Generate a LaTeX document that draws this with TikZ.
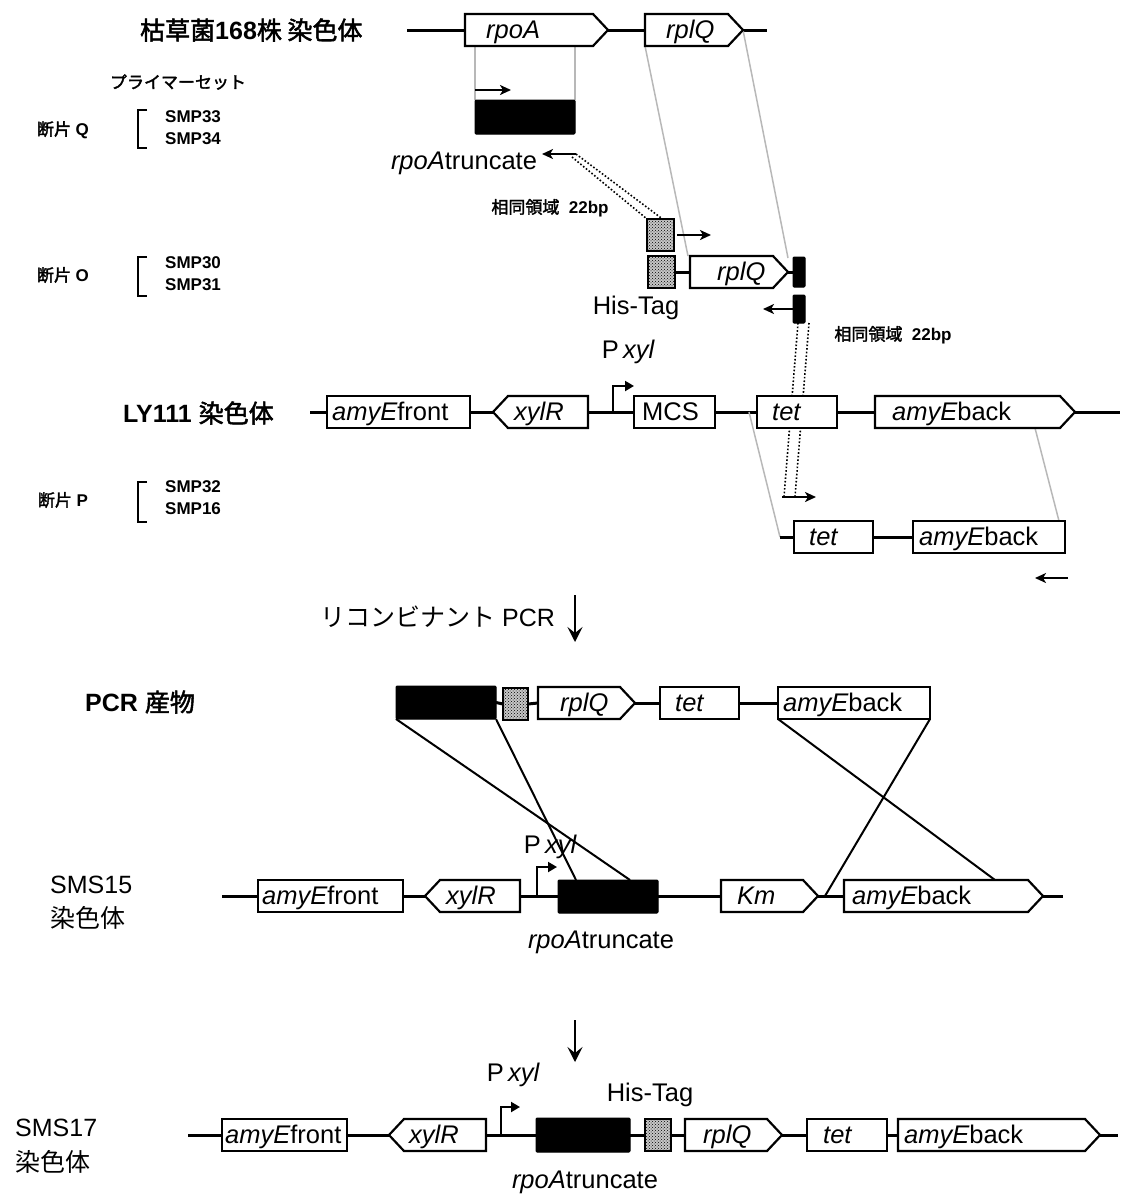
\documentclass[tikz,border=0pt]{standalone}
\usepackage{fontspec}
\setmainfont{Liberation Sans}
\newfontfamily\cjk[AutoFakeBold=2]{Noto Sans CJK JP}
\usetikzlibrary{arrows.meta,patterns}
\pgfdeclarelayer{bg}
\pgfsetlayers{bg,main}
\tikzset{
 chrom/.style={line width=3pt},
 gshape/.style={inner sep=0pt, outer sep=0pt, minimum height=32pt},
 gout/.style={line width=2.2pt, fill=white, line join=miter},
 gtxt/.style={font=\fontsize{25.5}{27}\selectfont, inner sep=0pt, anchor=base west},
 mid/.style={font=\fontsize{25.5}{27}\selectfont, inner sep=0pt},
 big/.style={font=\fontsize{25}{28}\selectfont, inner sep=0pt},
 small/.style={font=\fontsize{17}{19}\selectfont\bfseries, inner sep=0pt},
 glink/.style={draw=black!28, line width=1.5pt},
 cross/.style={line width=2pt},
 primer/.style={line width=2pt, -{Stealth[length=11pt,width=10pt,inset=3pt]}},
 bigarrow/.style={line width=2.8pt, -{Stealth[length=15pt,width=15pt,inset=6pt]}},
 prom/.style={line width=2pt, -{Triangle[length=9pt,width=10pt]}},
 dotl/.style={line width=1.6pt, dotted},
 blk/.style={fill=black, draw=black, line width=1pt, inner sep=0pt, outer sep=0pt, rounded corners=1pt},
 hatch/.style={draw=black, line width=2pt, inner sep=0pt, outer sep=0pt, preaction={fill=black!22}, pattern=crosshatch dots, pattern color=black},
 brk/.style={line width=1.5pt},
}
\newcommand\gB[6]{%
 \node[gshape, minimum width={#3-#2}] (#1) at ({(#2+#3)/2},#4) {};
 \draw[gout] (#1.north west) rectangle (#1.south east);
 \node[gtxt] (#1-t) at (#6,{#4+8.5}) {#5};}
\newcommand\gR[6]{%
 \node[gshape, minimum width={#3-#2}] (#1) at ({(#2+#3)/2},#4) {};
 \draw[gout] (#1.north west) -- ([xshift=-15pt]#1.north east) -- (#1.east) -- ([xshift=-15pt]#1.south east) -- (#1.south west) -- cycle;
 \node[gtxt] (#1-t) at (#6,{#4+8.5}) {#5};}
\newcommand\gL[6]{%
 \node[gshape, minimum width={#3-#2}] (#1) at ({(#2+#3)/2},#4) {};
 \draw[gout] (#1.west) -- ([xshift=15pt]#1.north west) -- (#1.north east) -- (#1.south east) -- ([xshift=15pt]#1.south west) -- cycle;
 \node[gtxt] (#1-t) at (#6,{#4+8.5}) {#5};}
\begin{document}
\begin{tikzpicture}[x=1pt,y=-1pt]
\useasboundingbox (0,0) rectangle (1121,1195);

% ---------- row 1: B. subtilis 168 chromosome
\node[big, anchor=west, font=\fontsize{25}{28}\selectfont\bfseries] (title) at (140,30) {{\cjk 枯草菌}168{\cjk 株 染色体}};
\coordinate (r1a) at (407,30); \coordinate (r1b) at (767,30);
\gR{rpoA}{465}{608}{30}{\itshape rpoA}{486}
\gR{rplQa}{645}{743}{30}{\itshape rplQ}{666}

% ---------- primer labels
\node[small] (pset) at (178,82) {{\cjk プライマーセット}};
\node[small] (fQ) at (63,130) {{\cjk 断片} Q};
\node[small, anchor=west] (s33) at (165,117) {SMP33};
\node[small, anchor=west] (s34) at (165,139) {SMP34};
\draw[brk] (147,110) -- (138,110) -- (138,148) -- (147,148);
\node[small] (fO) at (63,275) {{\cjk 断片} O};
\node[small, anchor=west] (s30) at (165,263) {SMP30};
\node[small, anchor=west] (s31) at (165,285) {SMP31};
\draw[brk] (147,257) -- (138,257) -- (138,296) -- (147,296);
\node[small] (fP) at (63,500) {{\cjk 断片} P};
\node[small, anchor=west] (s32) at (165,487) {SMP32};
\node[small, anchor=west] (s16) at (165,509) {SMP16};
\draw[brk] (147,482) -- (138,482) -- (138,522) -- (147,522);

% ---------- fragment Q
\node[blk, minimum width=100, minimum height=34] (qbox) at (525,117) {};
\draw[primer] ([yshift=10pt]qbox.north west) -- ++(36,0);
\node[mid] (qlab) at (464,163) {{\itshape rpoA}truncate};
\coordinate (qrev) at (576,154);
\draw[primer] (qrev) -- ++(-34,0);
\node[small] (hom1) at (550,208) {{\cjk 相同領域}\ \ 22bp};

% ---------- fragment O
\node[hatch, minimum width=27, minimum height=32] (hb1) at (660.5,235) {};
\draw[primer] ([xshift=3pt]hb1.east) -- ++(34,0);
\node[hatch, minimum width=27, minimum height=32] (hb2) at (661.5,272) {};
\gR{rplQb}{690}{788}{272}{\itshape rplQ}{717}
\node[blk, minimum width=12, minimum height=30] (bar1) at (799,272) {};
\node[mid] (ht1) at (636,308) {His-Tag};
\node[blk, minimum width=12, minimum height=28] (bar2) at (799,309) {};
\draw[primer] (bar2.west) -- ++(-30,0);
\node[small] (hom2) at (893,335) {{\cjk 相同領域}\ \ 22bp};

% ---------- LY111 chromosome
\node[big, anchor=west, font=\fontsize{25}{28}\selectfont\bfseries] (ly) at (123,413) {LY111 {\cjk 染色体}};
\coordinate (r2a) at (310,412); \coordinate (r2b) at (1120,412);
\gB{amyEfa}{327}{470}{412}{{\itshape amyE}front}{332}
\gL{xylRa}{493}{588}{412}{\itshape xylR}{514}
\gB{mcs}{634}{715}{412}{MCS}{642}
\gB{teta}{757}{837}{412}{\itshape tet}{772}
\gR{amyEba}{875}{1075}{412}{{\itshape amyE}back}{892}
\coordinate (p1) at (613,412);
\draw[prom] (p1) |- (634,386);
\node[mid] (px1) at (628,352) {P\,{\itshape xyl}};

% ---------- fragment P
\coordinate (r3a) at (780,537);
\gB{tetb}{794}{873}{537}{\itshape tet}{809}
\gB{amyEbb}{913}{1065}{537}{{\itshape amyE}back}{919}
\coordinate (pP) at (782,497);
\draw[primer] (pP) -- ++(34,0);
\coordinate (pPr) at (1068,578);
\draw[primer] (pPr) -- ++(-33,0);

% ---------- recombinant PCR
\node[big, anchor=west] (rpcr) at (320,617) {{\cjk リコンビナント} PCR};
\coordinate (da1) at (575,595);
\draw[bigarrow] (da1) -- ++(0,47);

% ---------- PCR product
\node[big, anchor=west, font=\fontsize{25}{28}\selectfont\bfseries] (prod) at (85,702) {PCR {\cjk 産物}};
\node[blk, minimum width=100, minimum height=33] (pblk) at (446,702.5) {};
\node[hatch, minimum width=25, minimum height=32] (hb3) at (515.5,704) {};
\gR{rplQc}{538}{635}{703}{\itshape rplQ}{560}
\gB{tetc}{660}{739}{703}{\itshape tet}{675}
\gB{amyEbc}{778}{930}{703}{{\itshape amyE}back}{783}

% ---------- SMS15 chromosome
\node[big, anchor=west] (sms15) at (50,885) {SMS15};
\node[big, anchor=west] (sms15b) at (50,918) {{\cjk 染色体}};
\coordinate (r4a) at (222,896); \coordinate (r4b) at (1063,896);
\gB{amyEfb}{258}{403}{896}{{\itshape amyE}front}{262}
\gL{xylRb}{425}{520}{896}{\itshape xylR}{446}
\coordinate (p2) at (537,896);
\draw[prom] (p2) |- (557,867);
\node[mid] (px2) at (550,847) {P\,{\itshape xyl}};
\node[blk, minimum width=100, minimum height=33] (sblk) at (608,896.5) {};
\gR{km}{721}{818}{896}{\itshape Km}{737}
\gR{amyEbd}{844}{1043}{896}{{\itshape amyE}back}{852}
\node[mid] (tl2) at (601,942) {{\itshape rpoA}truncate};
\coordinate (kmend) at ([xshift=7pt]km.east);

% crossing lines
\draw[cross] (pblk.south west) -- ([xshift=-28pt]sblk.north east);
\draw[cross] (pblk.south east) -- ([xshift=18pt]sblk.north west);
\draw[cross] (amyEbc.south west) -- ([xshift=-48pt]amyEbd.north east);
\draw[cross] (amyEbc.south east) -- (kmend);

% ---------- arrow 2
\coordinate (da2) at (575,1020);
\draw[bigarrow] (da2) -- ++(0,42);

% ---------- SMS17 chromosome
\node[big, anchor=west] (sms17) at (15,1128) {SMS17};
\node[big, anchor=west] (sms17b) at (15,1162) {{\cjk 染色体}};
\coordinate (r5a) at (188,1135); \coordinate (r5b) at (1118,1135);
\gB{amyEfc}{222}{347}{1135}{{\itshape amyE}front}{225}
\gL{xylRc}{389}{486}{1135}{\itshape xylR}{409}
\coordinate (p3) at (501,1135);
\draw[prom] (p3) |- (520,1107);
\node[mid] (px3) at (513,1075) {P\,{\itshape xyl}};
\node[blk, minimum width=94, minimum height=34] (blk3) at (583,1135) {};
\node[hatch, minimum width=26, minimum height=32] (hb4) at (658,1135) {};
\gR{rplQd}{685}{782}{1135}{\itshape rplQ}{703}
\gB{tetd}{807}{887}{1135}{\itshape tet}{823}
\gR{amyEbe}{898}{1100}{1135}{{\itshape amyE}back}{904}
\node[mid] (ht2) at (650,1095) {His-Tag};
\node[mid] (tl3) at (585,1182) {{\itshape rpoA}truncate};

% ---------- background layer: backbones, links, dotted lines
\begin{pgfonlayer}{bg}
 \draw[chrom] (r1a) -- (r1b);
 \draw[glink] ([xshift=10pt]rpoA.south west) -- (qbox.north west);
 \draw[glink] (qbox.north east |- rpoA.south) -- (qbox.north east);
 \draw[glink] (rplQa.south west) -- ([xshift=-2pt]rplQb.north west);
 \draw[glink] (rplQa.east) -- ([yshift=14pt]rplQb.east);
 \draw[dotl] (qrev) -- ([xshift=2pt]hb1.north);
 \draw[dotl] ([xshift=-4pt,yshift=-3pt]qrev) -- (hb1.north west);
 \draw[chrom] (hb2.east) -- (rplQb.west);
 \draw[chrom] (rplQb.east) -- (bar1.west);
 \draw[dotl] ([xshift=-1pt]bar2.south) -- ([xshift=2pt]pP);
 \draw[dotl] ([xshift=4pt]bar2.south east) -- ([xshift=13pt]pP);
 \draw[chrom] (r2a) -- (r2b);
 \draw[glink] ([xshift=-8pt]teta.west) -- (r3a);
 \draw[glink] ([xshift=-40pt]amyEba.south east) -- ([xshift=-6pt]amyEbb.north east);
 \draw[chrom] (r3a) -- (amyEbb.east);
 \draw[chrom] (pblk.east) -- (hb3.west);
 \draw[chrom] (hb3.east) -- (rplQc.west);
 \draw[chrom] (rplQc.east) -- (tetc.west);
 \draw[chrom] (tetc.east) -- (amyEbc.west);
 \draw[chrom] (r4a) -- (r4b);
 \draw[chrom] (r5a) -- (r5b);
\end{pgfonlayer}
\end{tikzpicture}
\end{document}
